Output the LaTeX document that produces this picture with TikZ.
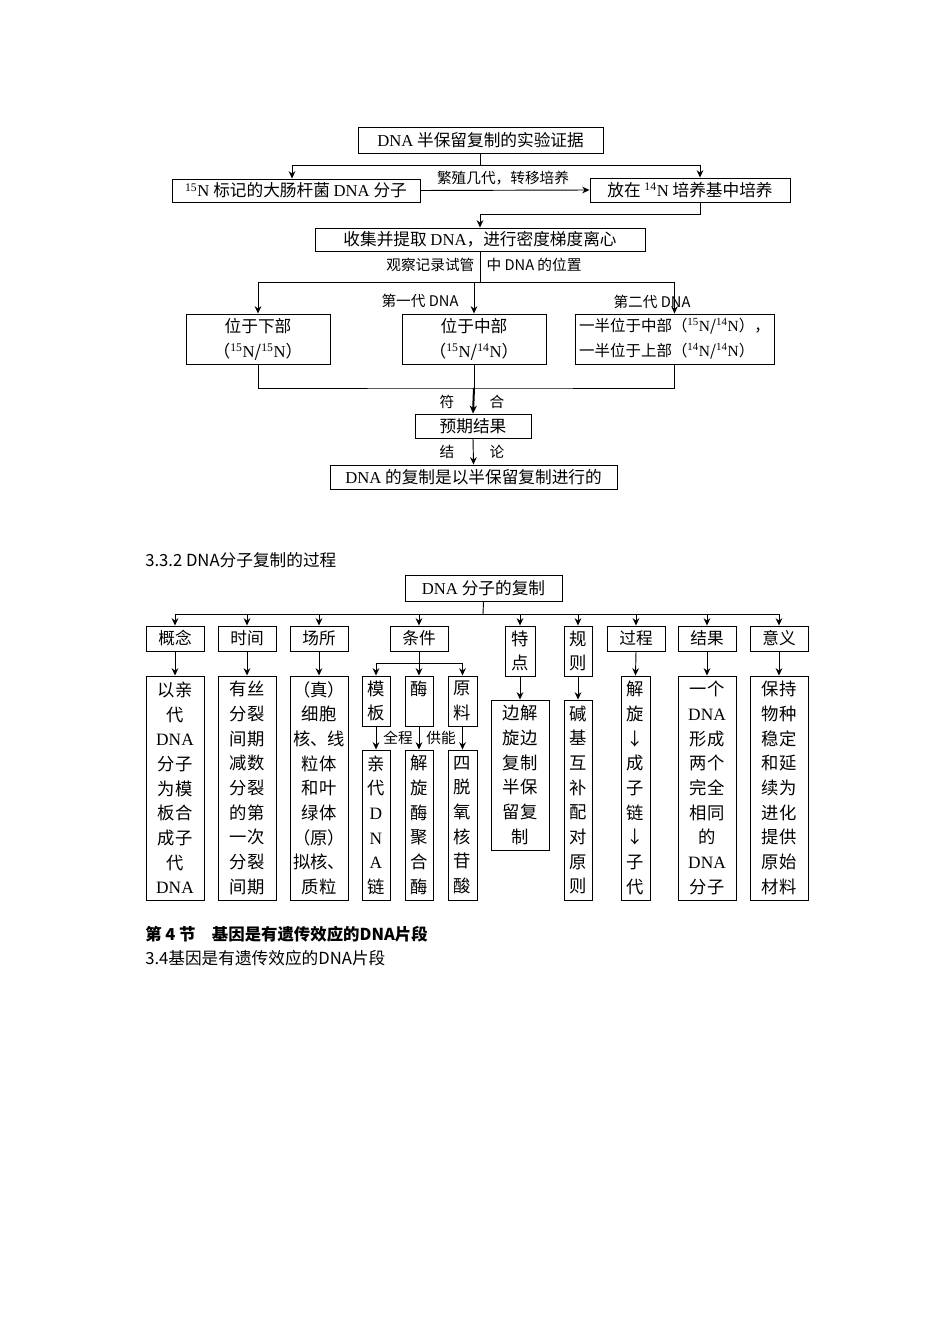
\documentclass[tikz,border=0pt]{standalone}
\usepackage{fontspec}
\setmainfont{Noto Sans CJK SC}
\newfontfamily\lat{Liberation Serif}
\usetikzlibrary{arrows.meta}
\newcommand\Dna{{\lat DNA}}
\newcommand\iso[1]{{\lat\textsuperscript{#1}N}}
\newcommand\bx[6][]{\node[box,#1,minimum width={(#5-#3)*0.75pt},minimum height={(#6-#4)*0.75pt}] (#2) at ({(#3+#5)/2},{(#4+#6)/2})}
\begin{document}
\begin{tikzpicture}[x=0.75pt,y=-0.75pt,
  box/.style={draw,line width=0.7pt,inner sep=0pt,align=center,font=\fontsize{12.5}{18.75}\selectfont},
  tall/.style={font=\fontsize{13}{18.5}\selectfont},
  lbl/.style={inner sep=1pt,font=\fontsize{11}{13}\selectfont},
  ln/.style={line width=0.7pt},
  arr/.style={line width=0.7pt,-{Stealth[length=5.5pt,width=5pt]}},
  arrthick/.style={line width=1.5pt,-{Stealth[length=6pt,width=5.5pt]}},
  head/.style={anchor=west,inner sep=0pt,font=\fontsize{12.5}{14}\selectfont}]
\useasboundingbox (0,0) rectangle (950,1344);
\fill[white] (0,0) rectangle (950,1344);
% ---------- top diagram ----------
\bx{t0}{358}{127}{603}{153}{\Dna\ 半保留复制的实验证据};
\bx{a1}{172}{179}{420}{202}{\iso{15}\ 标记的大肠杆菌 \Dna\ 分子};
\bx{a2}{590}{178}{790}{202}{放在 \iso{14}\ 培养基中培养};
\bx{c0}{315}{228}{645}{251}{收集并提取 \Dna，进行密度梯度离心};
\bx{b1}{186}{314}{330}{364}{位于下部\\（\iso{15}/\iso{15}）};
\bx{b2}{402}{314}{546}{364}{位于中部\\（\iso{15}/\iso{14}）};
\bx[font=\fontsize{11.6}{18.75}\selectfont]{b3}{575}{314}{774}{364}{一半位于中部（\iso{15}/\iso{14}），\\一半位于上部（\iso{14}/\iso{14}）\phantom{，}};
\bx{d0}{415}{414}{531}{438}{预期结果};
\bx{e0}{330}{465}{617}{489}{\Dna\ 的复制是以半保留复制进行的};

\coordinate (p1) at (292,165);
\coordinate (p2) at (700,165);
\draw[ln] (t0.south) -- (t0.south |- p1);
\draw[ln] (p1) -- (p2);
\draw[arr] (p1) -- (p1 |- a1.north);
\draw[arr] (p2) -- (p2 |- a2.north);
\draw[arr] (a1.east) -- (a2.west);
\node[lbl] (l0) at (503,178) {繁殖几代，转移培养};
\coordinate (q1) at (700,214);
\draw[arr] (q1 |- a2.south) -- (q1) -| (c0.north);
\coordinate (j2) at (480,282);
\draw[ln] (c0.south) -- (j2);
\node[lbl,anchor=east] (l1) at (476,265) {观察记录试管};
\node[lbl,anchor=west] (l2) at (485,265) {中 DNA 的位置};
\draw[ln] (b1.north |- j2) -- (b3.north |- j2);
\foreach \n in {b1,b2,b3} \draw[arr] (\n.north |- j2) -- (\n.north);
\node[lbl] (l3) at (420,301) {第一代 DNA};
\node[lbl] (l4) at (652,302) {第二代 DNA};
\coordinate (j3) at (474,388);
\draw[ln] (b1.south) |- (j3) -| (b3.south);
\draw[ln] (b2.south) -- (j3);
\draw[arrthick] (j3) -- (d0.north);
\node[lbl] (l5) at (447,402) {符};
\node[lbl] (l6) at (497,402) {合};
\draw[arr] (d0.south) -- (e0.north);
\node[lbl] (l7) at (447,452) {结};
\node[lbl] (l8) at (497,452) {论};

% ---------- middle diagram ----------
\node[head] (h1) at (145,560) {3.3.2 DNA分子复制的过程};
\bx{m0}{405}{575}{562}{601}{\Dna\ 分子的复制};
\bx{r1}{146}{626}{204}{651}{概念};
\bx{r2}{218}{626}{276}{651}{时间};
\bx{r3}{290}{626}{348}{651}{场所};
\bx{r4}{390}{626}{448}{651}{条件};
\bx[tall]{r5}{505}{626}{535}{676}{特\\点};
\bx[tall]{r6}{564}{626}{592}{676}{规\\则};
\bx{r7}{607}{626}{665}{651}{过程};
\bx{r8}{678}{626}{736}{651}{结果};
\bx{r9}{750}{626}{808}{651}{意义};

\bx[tall]{s1}{146}{676}{204}{900}{以亲\\代\\\Dna\\分子\\为模\\板合\\成子\\代\\\Dna};
\bx[tall]{s2}{218}{676}{276}{900}{有丝\\分裂\\间期\\减数\\分裂\\的第\\一次\\分裂\\间期};
\bx[tall]{s3}{290}{676}{348}{900}{（真）\\细胞\\核、线\\粒体\\和叶\\绿体\\（原）\\拟核、\\质粒};
\bx[tall]{u1}{362}{676}{390}{726}{模\\板};
\bx[tall]{u2}{405}{676}{433}{726}{酶\\\phantom{酶}};
\bx[tall]{u3}{448}{676}{477}{726}{原\\料};
\bx[tall]{v1}{362}{750}{390}{900}{亲\\代\\{\lat D}\\{\lat N}\\{\lat A}\\链};
\bx[tall]{v2}{405}{750}{433}{900}{解\\旋\\酶\\聚\\合\\酶};
\bx[tall]{v3}{448}{750}{477}{900}{四\\脱\\氧\\核\\苷\\酸};
\bx[tall]{s5}{491}{700}{549}{850}{边解\\旋边\\复制\\半保\\留复\\制};
\bx[tall]{s6}{564}{700}{592}{900}{碱\\基\\互\\补\\配\\对\\原\\则};
\bx[tall]{s7}{621}{676}{650}{900}{解\\旋\\↓\\成\\子\\链\\↓\\子\\代};
\bx[tall]{s8}{678}{676}{736}{900}{一个\\\Dna\\形成\\两个\\完全\\相同\\的\\\Dna\\分子};
\bx[tall]{s9}{750}{676}{808}{900}{保持\\物种\\稳定\\和延\\续为\\进化\\提供\\原始\\材料};

\coordinate (j4) at (483,614);
\draw[ln] (m0.south) -- (j4);
\draw[ln] (r1.north |- j4) -- (r9.north |- j4);
\foreach \n in {r1,r2,r3,r4,r5,r6,r7,r8,r9} \draw[arr] (\n.north |- j4) -- (\n.north);
\foreach \a/\b in {r1/s1,r2/s2,r3/s3,r5/s5,r6/s6,r7/s7,r8/s8,r9/s9} \draw[arr] (\a.south) -- (\b.north);
\coordinate (j5) at (419,663);
\draw[ln] (r4.south) -- (j5);
\draw[ln] (u1.north |- j5) -- (u3.north |- j5);
\foreach \n in {u1,u2,u3} \draw[arr] (\n.north |- j5) -- (\n.north);
\foreach \a/\b in {u1/v1,u2/v2,u3/v3} \draw[arr] (\a.south) -- (\b.north);
\node[lbl] (k1) at (398,738) {全程};
\node[lbl] (k2) at (441,738) {供能};

% ---------- bottom text ----------
\node[head,font=\bfseries\fontsize{12.3}{14}\selectfont] (h2) at (145,934) {第 4 节\quad 基因是有遗传效应的DNA片段};
\node[head] (h3) at (145,958) {3.4基因是有遗传效应的DNA片段};
\end{tikzpicture}
\end{document}
